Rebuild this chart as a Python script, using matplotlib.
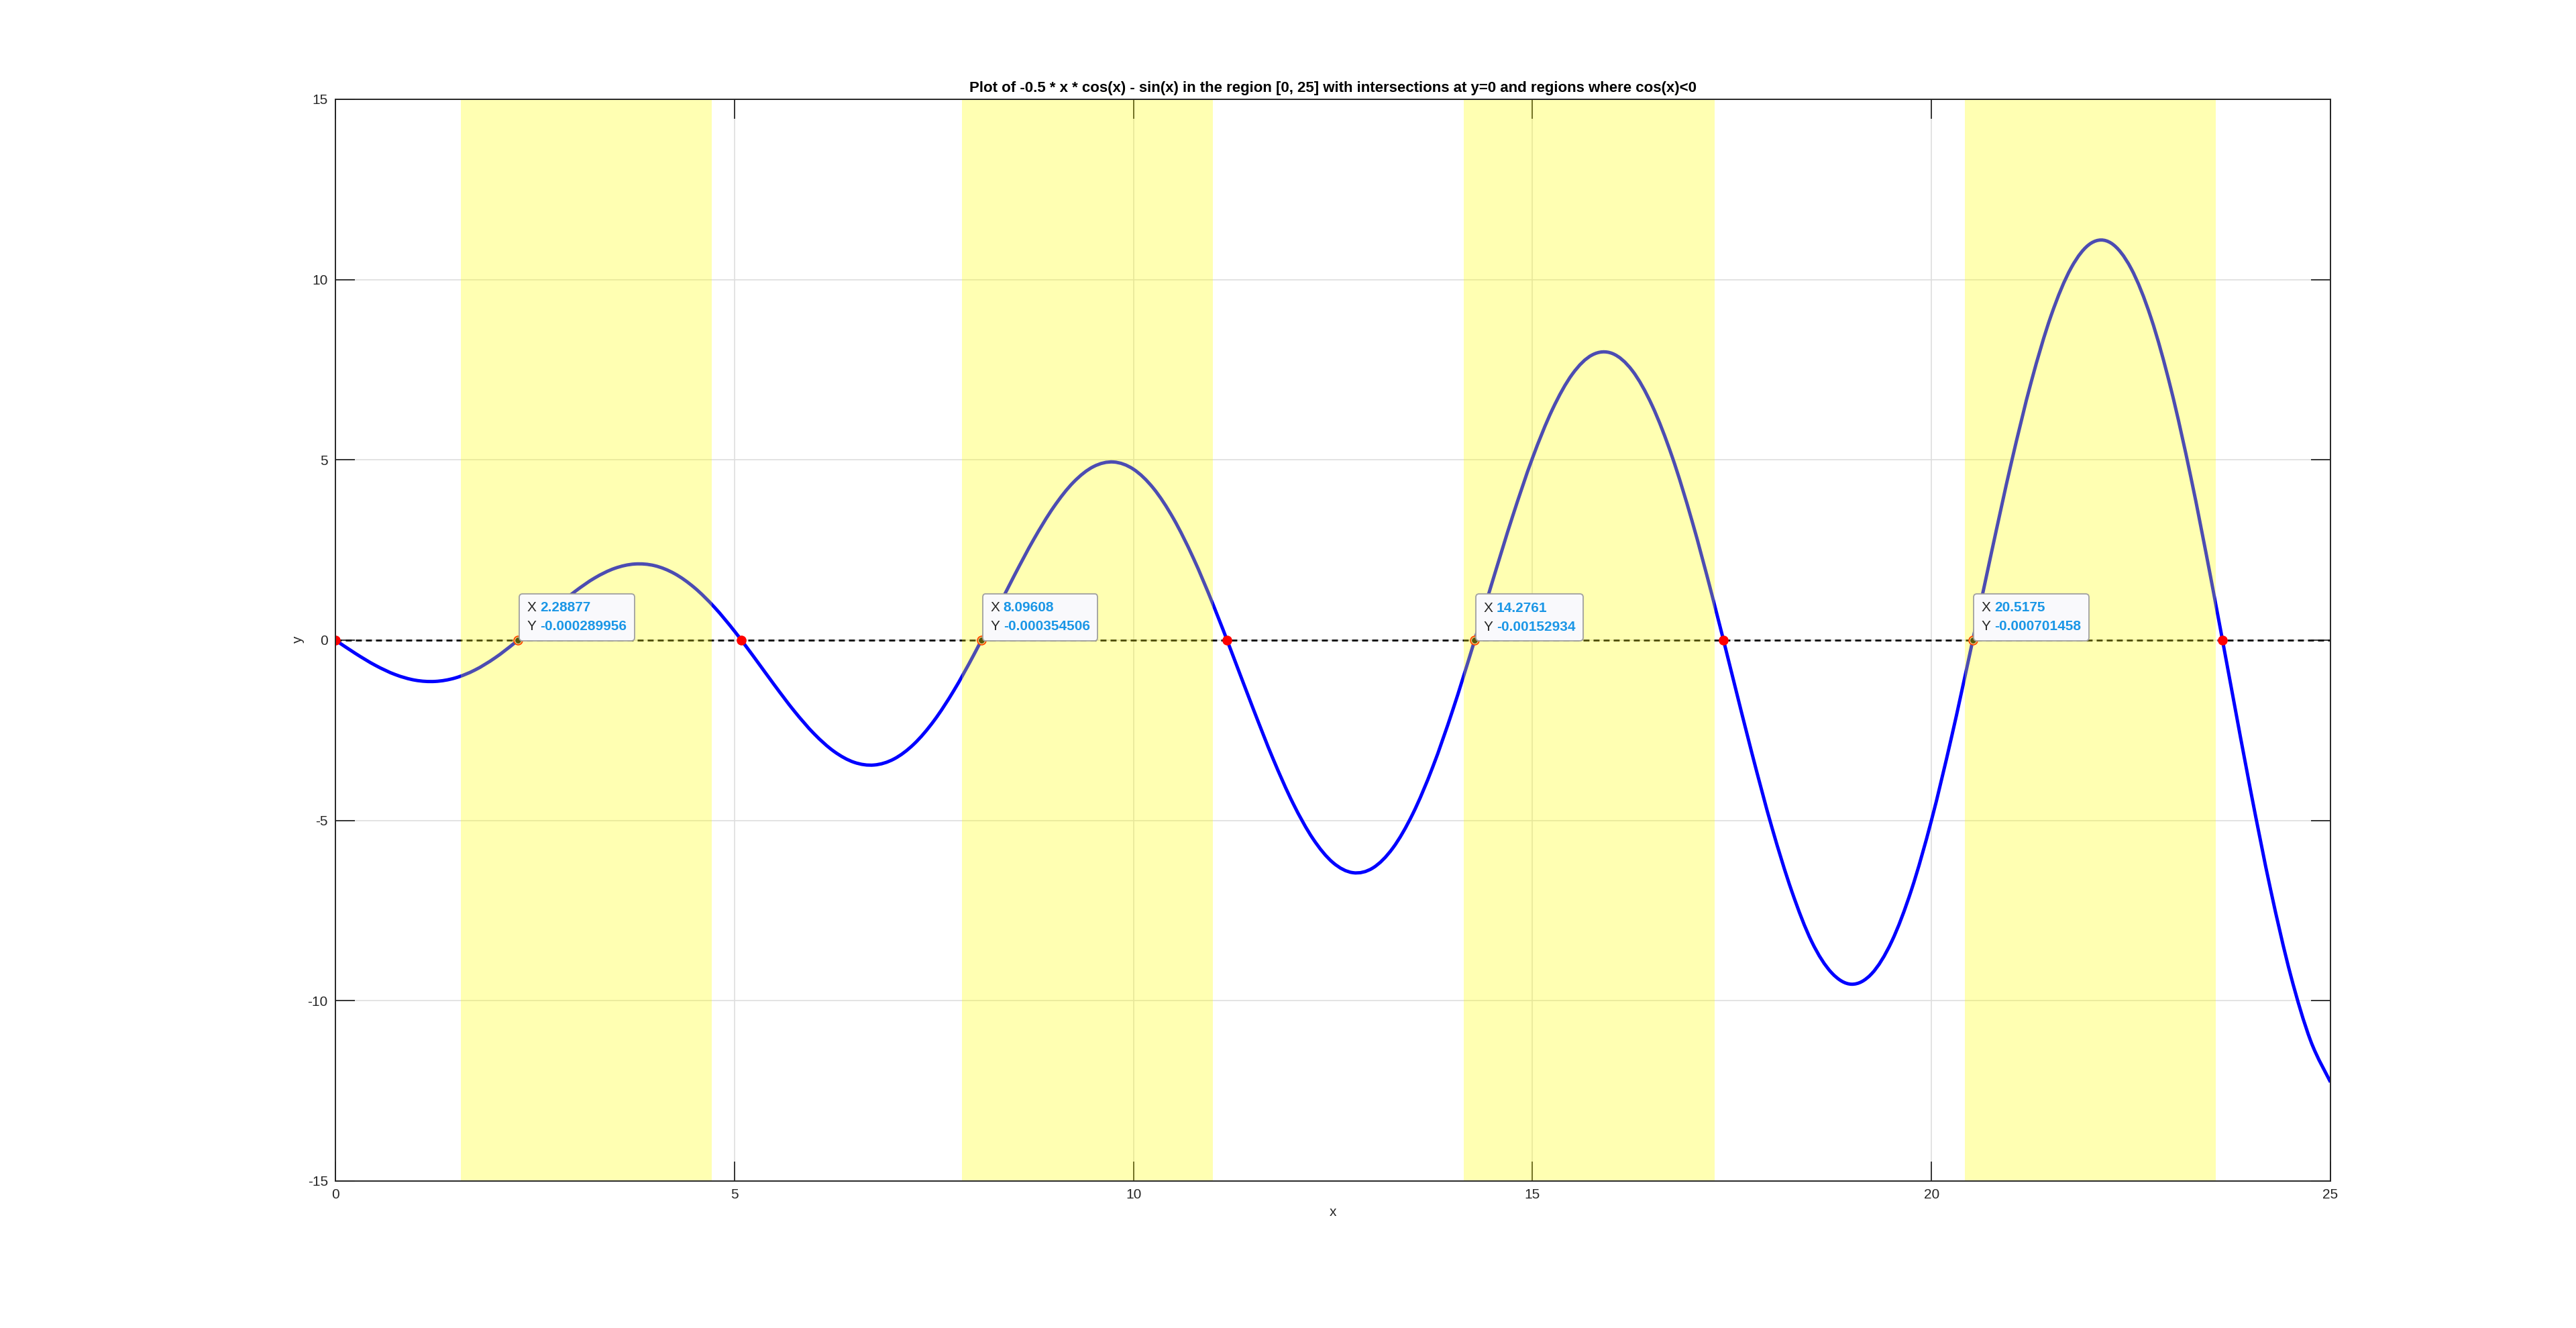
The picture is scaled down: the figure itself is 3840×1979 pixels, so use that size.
import matplotlib
matplotlib.use('Agg')
import matplotlib.pyplot as plt
from matplotlib.path import Path
from matplotlib.patches import PathPatch
from matplotlib.offsetbox import TextArea, HPacker, VPacker, AnnotationBbox

plt.rcParams['font.family'] = ['Liberation Sans', 'DejaVu Sans']
plt.rcParams['axes.unicode_minus'] = False

x_vals = [0.0, 0.25, 0.5, 0.75, 1.0, 1.25, 1.5, 1.75, 2.0, 2.25, 2.5, 2.75,
          3.0, 3.25, 3.5, 3.75, 4.0, 4.25, 4.5, 4.75, 5.0, 5.25, 5.5, 5.75,
          6.0, 6.25, 6.5, 6.75, 7.0, 7.25, 7.5, 7.75, 8.0, 8.25, 8.5, 8.75,
          9.0, 9.25, 9.5, 9.75, 10.0, 10.25, 10.5, 10.75, 11.0, 11.25, 11.5, 11.75,
          12.0, 12.25, 12.5, 12.75, 13.0, 13.25, 13.5, 13.75, 14.0, 14.25, 14.5, 14.75,
          15.0, 15.25, 15.5, 15.75, 16.0, 16.25, 16.5, 16.75, 17.0, 17.25, 17.5, 17.75,
          18.0, 18.25, 18.5, 18.75, 19.0, 19.25, 19.5, 19.75, 20.0, 20.25, 20.5, 20.75,
          21.0, 21.25, 21.5, 21.75, 22.0, 22.25, 22.5, 22.75, 23.0, 23.25, 23.5, 23.75,
          24.0, 24.25, 24.5, 24.75, 25.0]
y_vals = [0.000, -0.369, -0.699, -0.956, -1.112, -1.146, -1.051, -0.828, -0.493, -0.071,
          0.403, 0.889, 1.344, 1.724, 1.990, 2.110, 2.064, 1.843, 1.452, 0.910,
          0.250, -0.485, -1.243, -1.968, -2.601, -3.090, -3.389, -3.464, -3.296, -2.882,
          -2.238, -1.397, -0.407, 0.669, 1.760, 2.791, 3.688, 4.381, 4.812, 4.939,
          4.739, 4.211, 3.376, 2.277, 0.976, -0.448, -1.901, -3.295, -4.527, -5.510,
          -6.170, -6.450, -6.319, -5.768, -4.819, -3.522, -1.948, -0.191, 1.638, 3.424,
          5.047, 6.397, 7.377, 7.910, 7.949, 7.476, 6.503, 5.088, 3.300, 1.248,
          -0.944, -3.138, -5.192, -6.969, -8.366, -9.229, -9.543, -9.253, -8.365, -6.919,
          -4.994, -2.702, -0.181, 2.412, 4.914, 7.163, 9.008, 10.322, 11.008, 11.010,
          10.312, 8.942, 6.974, 4.520, 1.725, -1.238, -4.185, -6.927, -9.287, -11.106,
          -12.258]

# zero crossings
root_x = [0.0, 2.2888, 5.087, 8.0961, 11.173, 14.276, 17.393, 20.5175, 23.646]

# data tips
tip_x = [2.28877, 8.09608, 14.2761, 20.5175]
tip_y = [-0.000289956, -0.000354506, -0.00152934, -0.000701458]
tip_xtxt = ['2.28877', '8.09608', '14.2761', '20.5175']
tip_ytxt = ['-0.000289956', '-0.000354506', '-0.00152934', '-0.000701458']

# regions where cos(x) < 0
shade_start = [1.5708, 7.8540, 14.1372, 20.4204]
shade_end = [4.7124, 10.9956, 17.2788, 23.5619]

fig = plt.figure(figsize=(38.4, 19.79), dpi=100)
ax = fig.add_axes([0.1302, 0.1107, 0.7745, 0.8146])

# smooth line through the sampled points (bezier segments)
verts = [(x_vals[0], y_vals[0])]
codes = [Path.MOVETO]
n = len(x_vals)
for i in range(n - 1):
    p0 = max(i - 1, 0)
    p3 = min(i + 2, n - 1)
    c1 = (x_vals[i] + (x_vals[i + 1] - x_vals[p0]) / 6, y_vals[i] + (y_vals[i + 1] - y_vals[p0]) / 6)
    c2 = (x_vals[i + 1] - (x_vals[p3] - x_vals[i]) / 6, y_vals[i + 1] - (y_vals[p3] - y_vals[i]) / 6)
    verts += [c1, c2, (x_vals[i + 1], y_vals[i + 1])]
    codes += [Path.CURVE4] * 3
ax.add_patch(PathPatch(Path(verts, codes), fc='none', ec='#0000FF', lw=3.6, zorder=3))

ax.axhline(0, color='black', lw=2.0, linestyle=(0, (3.2, 2.2)), zorder=4)
ax.plot(root_x, [0] * len(root_x), 'o', color='#FF0000', ms=9.5, mec='#FF0000', zorder=5)
ax.plot(tip_x, tip_y, 'o', color='#111111', ms=7, mec='white', mew=0.6, zorder=6)

for a, b in zip(shade_start, shade_end):
    ax.axvspan(a, b, color='#FFFF00', alpha=0.3, lw=0, zorder=7)

for tx, ty, s1, s2 in zip(tip_x, tip_y, tip_xtxt, tip_ytxt):
    r1 = HPacker(children=[TextArea('X', textprops=dict(color='#262626', size=15)),
                           TextArea(s1, textprops=dict(color='#1A96E6', size=15, weight='bold'))],
                 sep=4, pad=0, align='baseline')
    r2 = HPacker(children=[TextArea('Y', textprops=dict(color='#262626', size=15)),
                           TextArea(s2, textprops=dict(color='#1A96E6', size=15, weight='bold'))],
                 sep=4, pad=0, align='baseline')
    box = VPacker(children=[r1, r2], sep=6.5, pad=0, align='left')
    ab = AnnotationBbox(box, (tx, ty), xybox=(9.5, 7.5), xycoords='data',
                        boxcoords='offset points', box_alignment=(0, 0),
                        frameon=True, fontsize=14,
                        bboxprops=dict(boxstyle='round,pad=0.6,rounding_size=0.25',
                                       fc='#F9F9FC', ec='#A0A0A0', lw=1.3))
    ab.set_zorder(10)
    ax.add_artist(ab)

ax.set_xlim(0, 25)
ax.set_ylim(-15, 15)
ax.set_xticks([0, 5, 10, 15, 20, 25])
ax.set_yticks([-15, -10, -5, 0, 5, 10, 15])
ax.grid(True, color='#DEDEDE', lw=1.2, zorder=0)
ax.set_axisbelow(True)
ax.tick_params(direction='in', length=21, width=1.3, colors='#262626',
               labelsize=15, pad=8, top=True, right=True)
for sp in ax.spines.values():
    sp.set_color('#262626')
    sp.set_linewidth(1.4)
    sp.set_zorder(12)

ax.set_xlabel('x', fontsize=15, color='#262626', labelpad=5)
ax.set_ylabel('y', fontsize=15, color='#262626', labelpad=3)
ax.set_title('Plot of -0.5 * x * cos(x) - sin(x) in the region [0, 25] with intersections at y=0 and regions where cos(x)<0',
             fontsize=16, fontweight='bold', pad=8)

fig.savefig('out.png', dpi=100, facecolor='white')
